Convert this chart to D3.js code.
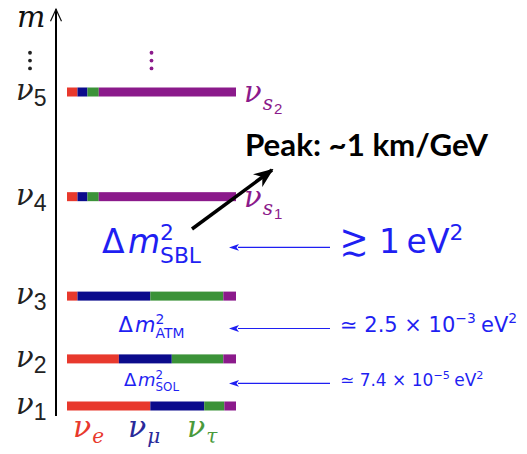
<!DOCTYPE html>
<html><head><meta charset="utf-8">
<script src="https://cdn.jsdelivr.net/npm/d3@7"></script>
<style>body{margin:0;background:#fff}</style>
</head><body><svg id="chart" width="527" height="454"></svg>
<script>
// Mass eigenstates, lightest first, and their schematic mass levels (arbitrary units)
const states = ["1", "2", "3", "4", "5"];
const massLevel = [0, 0.9, 2.1, 4.0, 6.0];

// Flavour content |U_ai|^2 of each eigenstate
const flavours = ["e", "mu", "tau", "s"];
const shareE   = [0.493, 0.307, 0.062, 0.062, 0.062];
const shareMu  = [0.319, 0.313, 0.431, 0.059, 0.059];
const shareTau = [0.119, 0.305, 0.432, 0.067, 0.067];
const shareS   = [0.069, 0.075, 0.075, 0.812, 0.812];

// Sterile states named on the right
const sterileState = ["4", "5"];
const sterileIndex = ["1", "2"];

// Mass splittings: name, the two levels, and quoted value
const splitName  = ["SOL", "ATM", "SBL"];
const splitLower = ["1", "2", "3"];
const splitUpper = ["2", "3", "4"];
const splitMant  = ["≃ 7.4 × 10", "≃ 2.5 × 10", ""];
const splitExp   = ["−5", "−3", ""];

const flavourColor = { e: "#e8392d", mu: "#0b0b8c", tau: "#3b9238", s: "#8b1a8b" };
const labelColor = { e: "#e8392d", mu: "#2a2a9a", tau: "#4a9a3c" };
const splitBlue = "#1f1ff2";
const ink = "#222";

const svg = d3.select("#chart");
const serif = "'DejaVu Serif', 'Liberation Serif', serif";
const sans = "'DejaVu Sans', 'Liberation Sans', sans-serif";
const sansB = "'Liberation Sans', 'DejaVu Sans', sans-serif";

const x = d3.scaleLinear().domain([0, 1]).range([67, 236]);
const y = d3.scaleLinear().domain([0, 6]).range([406, 92]);
const barH = 9;

// Stacked flavour bars
const rows = states.map((s, i) => ({ state: s, level: massLevel[i],
  e: shareE[i], mu: shareMu[i], tau: shareTau[i], s: shareS[i] }));
const stack = d3.stack().keys(flavours)(rows);

svg.append("g").selectAll("g").data(stack).join("g")
  .attr("fill", d => flavourColor[d.key])
  .selectAll("rect").data(d => d).join("rect")
  .attr("x", d => x(d[0]))
  .attr("width", d => x(d[1]) - x(d[0]))
  .attr("y", d => y(d.data.level) - barH / 2)
  .attr("height", barH);

// Mass axis
const axisX = 56;
svg.append("line").attr("x1", axisX).attr("x2", axisX)
  .attr("y1", y(-0.19)).attr("y2", y(7.58))
  .attr("stroke", "#000").attr("stroke-width", 2);
svg.append("path")
  .attr("d", `M${axisX - 5.5},${y(7.35)} L${axisX},${y(7.58)} L${axisX + 5.5},${y(7.35)}`)
  .attr("fill", "none").attr("stroke", "#111").attr("stroke-width", 1.2);

// Continuation dots above the heaviest state
const dotLevels = [6.45, 6.6, 6.75];
svg.append("g").selectAll("circle").data(dotLevels).join("circle")
  .attr("cx", 30).attr("cy", d => y(d)).attr("r", 1.9).attr("fill", "#222");
svg.append("g").selectAll("circle").data(dotLevels).join("circle")
  .attr("cx", x(0.5)).attr("cy", d => y(d)).attr("r", 1.9).attr("fill", flavourColor.s);

// Lay out a run of text pieces; pieces with `stack` share the previous x
function mathText(g, x0, y0, pieces, anchor) {
  const grp = g.append("g");
  let cx = 0, lastX = 0;
  pieces.forEach(p => {
    const t = grp.append("text")
      .attr("font-family", p.font || sans)
      .attr("font-size", p.size)
      .attr("font-style", p.italic ? "italic" : "normal")
      .attr("fill", p.fill)
      .text(p.t);
    const w = t.node().getComputedTextLength();
    let px;
    if (p.stack) { px = lastX; cx = Math.max(cx, lastX + w); }
    else { px = cx + (p.gap || 0); cx = px + w; lastX = px; }
    t.attr("x", px).attr("y", p.dy || 0);
  });
  const shift = anchor === "middle" ? -cx / 2 : 0;
  grp.attr("transform", `translate(${x0 + shift},${y0})`);
  return cx;
}

// Eigenstate labels on the axis
states.forEach((s, i) => {
  const cy = y(massLevel[i]);
  mathText(svg, 16, cy + 8, [
    { t: "ν", size: 29, italic: true, font: serif, fill: ink },
    { t: s, size: 23, font: sansB, fill: ink, dy: 6, gap: 0 }
  ]);
});

// Axis title
mathText(svg, 17, 27, [{ t: "m", size: 30, italic: true, font: serif, fill: "#111" }]);

// Sterile state names
sterileState.forEach((s, i) => {
  const cy = y(massLevel[states.indexOf(s)]);
  mathText(svg, 244, cy + 10, [
    { t: "ν", size: 29, italic: true, font: serif, fill: flavourColor.s },
    { t: "s", size: 20, italic: true, font: serif, fill: flavourColor.s, dy: 8, gap: 1 },
    { t: sterileIndex[i], size: 15, font: sansB, fill: flavourColor.s, dy: 12, gap: 1 }
  ]);
});

// Flavour names below the bars
const flavourLabelX = [73, 128, 187];
["e", "mu", "tau"].forEach((f, i) => {
  mathText(svg, flavourLabelX[i], 437, [
    { t: "ν", size: 30, italic: true, font: serif, fill: labelColor[f] },
    { t: f === "e" ? "e" : f === "mu" ? "μ" : "τ", size: 20, italic: true, font: serif,
      fill: labelColor[f], dy: 6, gap: 1 }
  ]);
});

// Splitting labels, arrows and values
const labelSize = [18, 21, 33];
const valueSize = [17, 21, 33];
const defs = svg.append("defs");
defs.append("marker").attr("id", "blueHead").attr("viewBox", "0 0 10 8")
  .attr("refX", 1).attr("refY", 4).attr("markerWidth", 10).attr("markerHeight", 8)
  .attr("markerUnits", "userSpaceOnUse").attr("orient", "auto")
  .append("path").attr("d", "M10,4 L0,0.6 L2.5,4 L0,7.4 Z").attr("fill", splitBlue);

splitName.forEach((name, i) => {
  const mid = (y(massLevel[states.indexOf(splitLower[i])]) + y(massLevel[states.indexOf(splitUpper[i])])) / 2;
  const ls = labelSize[i];
  mathText(svg, x(0.5), mid + ls * 0.2, [
    { t: "Δ", size: ls, font: sans, fill: splitBlue },
    { t: "m", size: ls, italic: true, font: sans, fill: splitBlue, gap: ls * 0.1 },
    { t: "2", size: ls * 0.66, font: sans, fill: splitBlue, dy: -ls * 0.38, gap: 0 },
    { t: name, size: ls * 0.66, font: sans, fill: splitBlue, dy: ls * 0.3, stack: true }
  ], "middle");

  svg.append("line").attr("x1", 330).attr("x2", 238)
    .attr("y1", mid + 1).attr("y2", mid + 1)
    .attr("stroke", splitBlue).attr("stroke-width", 1.2)
    .attr("marker-end", "url(#blueHead)");

  const vs = valueSize[i];
  const base = mid + vs * 0.2;
  if (splitExp[i]) {
    mathText(svg, 340, base, [
      { t: splitMant[i], size: vs, font: sans, fill: splitBlue },
      { t: splitExp[i], size: vs * 0.66, font: sans, fill: splitBlue, dy: -vs * 0.4, gap: 0 },
      { t: "eV", size: vs, font: sans, fill: splitBlue, gap: vs * 0.25 },
      { t: "2", size: vs * 0.66, font: sans, fill: splitBlue, dy: -vs * 0.4, gap: 0 }
    ]);
  } else {
    // "greater than or of order": > stacked over ~
    const rel = svg.append("g").attr("fill", splitBlue).attr("font-family", sans);
    rel.append("text").attr("x", 354).attr("y", base - 3).attr("text-anchor", "middle")
      .attr("font-size", vs * 1.05).text(">");
    rel.append("text").attr("x", 354).attr("y", base + 12).attr("text-anchor", "middle")
      .attr("font-size", vs * 1.05).text("∼");
    mathText(svg, 379, base, [
      { t: "1", size: vs, font: sans, fill: splitBlue },
      { t: "eV", size: vs, font: sans, fill: splitBlue, gap: vs * 0.2 },
      { t: "2", size: vs * 0.66, font: sans, fill: splitBlue, dy: -vs * 0.4, gap: 0 }
    ]);
  }
});

// Oscillation peak annotation
const peak = svg.append("text").attr("x", 245).attr("y", 156)
  .attr("font-family", "Lato, 'Open Sans', sans-serif").attr("font-weight", "bold")
  .attr("font-size", 24).attr("fill", "#000").text("Peak: ~1 km/GeV");
const pw = peak.node().getComputedTextLength();
peak.attr("font-size", 24 * 243 / pw);

defs.append("marker").attr("id", "blackHead").attr("viewBox", "0 0 20 16")
  .attr("refX", 18).attr("refY", 8).attr("markerWidth", 20).attr("markerHeight", 16)
  .attr("markerUnits", "userSpaceOnUse").attr("orient", "auto")
  .append("path").attr("d", "M20,8 L0,0 L6,8 L0,16 Z").attr("fill", "#000");
svg.append("line").attr("x1", 192).attr("y1", 229).attr("x2", 272).attr("y2", 170)
  .attr("stroke", "#000").attr("stroke-width", 3.5).attr("marker-end", "url(#blackHead)");
</script>
</body></html>
